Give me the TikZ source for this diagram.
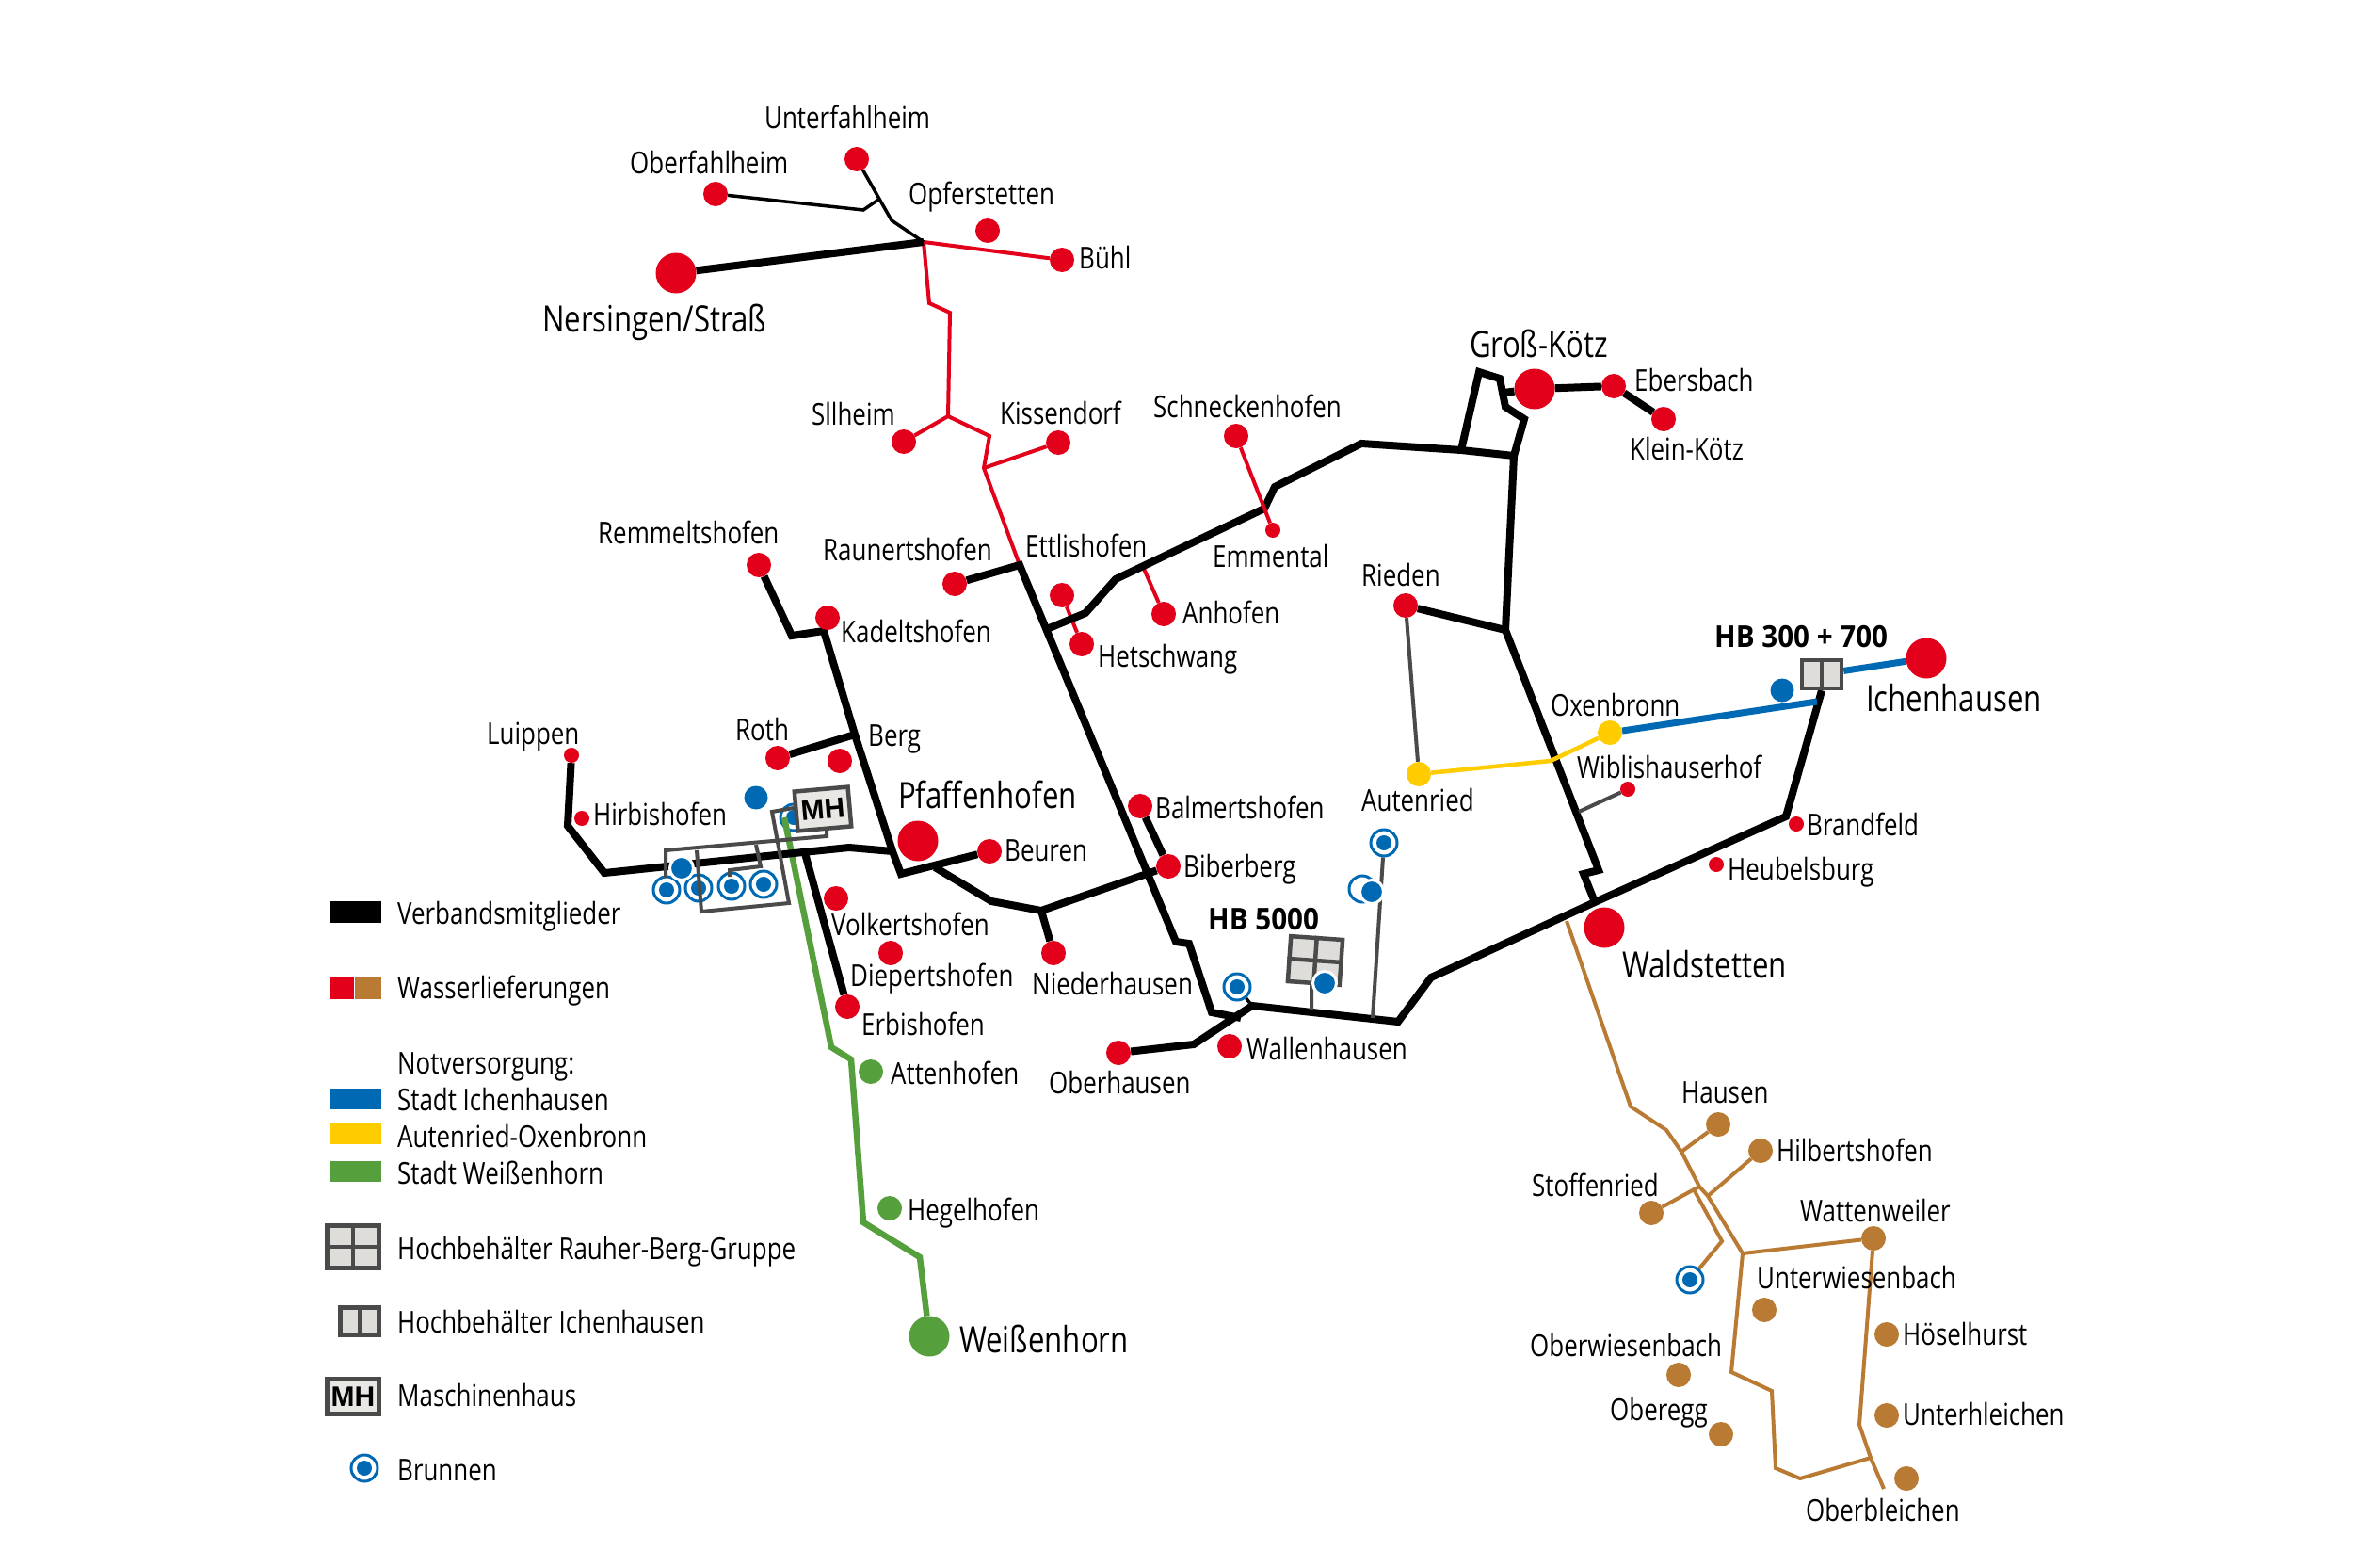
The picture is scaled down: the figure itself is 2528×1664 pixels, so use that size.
\documentclass[tikz,border=0pt]{standalone}
\usepackage{fontspec}
\setmainfont[FakeStretch=0.81]{Open Sans}
\newfontfamily\hbfont[FakeStretch=0.925]{Open Sans}
\newfontfamily\mhfont{Liberation Sans}
\pgfdeclarelayer{conn}
\pgfdeclarelayer{topl}
\pgfsetlayers{conn,main,topl}
\definecolor{cred}{HTML}{E2001A}
\definecolor{cbrown}{HTML}{B97A33}
\definecolor{cblue}{HTML}{0069B4}
\definecolor{cyellow}{HTML}{FFCC00}
\definecolor{cgreen}{HTML}{55A03C}
\definecolor{cgray}{HTML}{4A4A4A}
\definecolor{cbox}{HTML}{DEDDD9}
\tikzset{
  dot/.style={circle,inner sep=0pt,minimum size=#1},
  bigdot/.style={dot=43pt,fill=cred},
  rd/.style={dot=26pt,fill=cred},
  sd/.style={dot=16pt,fill=cred},
  bd/.style={dot=26pt,fill=cbrown},
  gd/.style={dot=26pt,fill=cgreen},
  gbig/.style={dot=43pt,fill=cgreen},
  yd/.style={dot=26pt,fill=cyellow},
  bl/.style={dot=25pt,fill=cblue},
  blh/.style={dot=25pt,fill=cblue,draw=white,line width=3pt},
  ring/.style={dot=28pt,draw=cblue,line width=3pt,fill=white},
  core/.style={dot=16pt,fill=cblue},
  lab/.style={anchor=base west,inner sep=0pt,font=\fontsize{32}{38}\selectfont},
  big/.style={anchor=base west,inner sep=0pt,font=\fontsize{38.5}{46}\selectfont},
  hbl/.style={anchor=base west,inner sep=0pt,font=\hbfont\bfseries\fontsize{32}{38}\selectfont},
  tank/.style={draw=cgray,line width=4.5pt,fill=cbox,inner sep=0pt},
  blk/.style={draw=black,line width=8pt,line join=miter},
  thin/.style={draw=black,line width=3.5pt},
  redl/.style={draw=cred,line width=4pt},
  brl/.style={draw=cbrown,line width=4pt},
  blul/.style={draw=cblue,line width=7pt},
  yel/.style={draw=cyellow,line width=4.5pt},
  grl/.style={draw=cgreen,line width=6.5pt},
  gra/.style={draw=cgray,line width=4pt},
  swatch/.style={inner sep=0pt,anchor=north west}
}
\newcommand{\brunnen}[2]{\node[ring] (#1) at (#2) {}; \node[core] (#1c) at (#2) {};}
\begin{document}
\begin{tikzpicture}[x=1pt,y=-1pt]
\useasboundingbox (0,0) rectangle (2528,1664);

% --- places
\node[rd] (unterf) at (910,169) {};
\node[rd] (oberf) at (760,206) {};
\node[rd] (opfer) at (1049,245) {};
\node[rd] (buehl) at (1128,276) {};
\node[bigdot] (nersingen) at (718,290) {};
\node[rd] (sill) at (960,469) {};
\node[rd] (kiss) at (1124,470) {};
\node[rd] (schneck) at (1313,463) {};
\node[sd] (emm) at (1352,563) {};
\node[rd] (rauner) at (1014,620) {};
\node[rd] (ettl) at (1128,632) {};
\node[rd] (hetsch) at (1149,684) {};
\node[rd] (anhof) at (1236,652) {};
\node[rd] (remm) at (806,600) {};
\node[rd] (kadel) at (879,656) {};
\node[rd] (roth) at (826,805) {};
\node[rd] (berg) at (892,808) {};
\node[sd] (luipp) at (607,802) {};
\node[sd] (hirb) at (618,869) {};
\node[bigdot] (pfaff) at (975,893) {};
\node[rd] (beuren) at (1051,904) {};
\node[rd] (volk) at (888,954) {};
\node[rd] (diep) at (946,1012) {};
\node[rd] (erb) at (900,1069) {};
\node[rd] (balm) at (1211,856) {};
\node[rd] (biber) at (1241,920) {};
\node[rd] (nieder) at (1119,1012) {};
\node[rd] (oberh) at (1188,1118) {};
\node[rd] (wall) at (1306,1111) {};
\node[bigdot] (wald) at (1704,985) {};
\node[bigdot] (gross) at (1630,413) {};
\node[rd] (ebers) at (1714,410) {};
\node[rd] (klein) at (1767,445) {};
\node[rd] (rieden) at (1493,643) {};
\node[yd] (auten) at (1507,822) {};
\node[yd] (oxen) at (1710,778) {};
\node[sd] (wibli) at (1729,838) {};
\node[sd] (brand) at (1908,875) {};
\node[sd] (heub) at (1823,918) {};
\node[bigdot] (ichen) at (2046,699) {};
\node[gd] (atten) at (925,1138) {};
\node[gd] (hegel) at (945,1283) {};
\node[gbig] (weiss) at (987,1419) {};
\node[bd] (hausen) at (1825,1194) {};
\node[bd] (hilb) at (1870,1222) {};
\node[bd] (stoff) at (1754,1288) {};
\node[bd] (watten) at (1990,1315) {};
\node[bd] (unterw) at (1874,1391) {};
\node[bd] (hoesel) at (2004,1417) {};
\node[bd] (unterh) at (2004,1503) {};
\node[bd] (oberb) at (2025,1570) {};
\node[bd] (oberw) at (1783,1460) {};
\node[bd] (oberegg) at (1828,1523) {};

% --- wells
\brunnen{w1}{708,945}
\brunnen{w2}{742,943}
\brunnen{w3}{777,941}
\brunnen{w4}{811,939}
\brunnen{w5}{1314,1048}
\brunnen{w6}{1470,895}
\node[ring] (w7) at (1447,944) {};
\brunnen{w8}{1795,1359}
\node[blh] (d1) at (724,922) {};
\node[bl] (d2) at (803,847) {};
\node[blh] (d3) at (1457,947) {};
\node[bl] (d4) at (1893,733) {};

% --- tanks
\node[tank,rotate=-4,minimum width=55pt,minimum height=48pt] (hb5) at (1397,1020) {};
\draw[gra,line width=4.5pt] (hb5.north) -- (hb5.south);
\draw[gra,line width=4.5pt] (hb5.west) -- (hb5.east);
\node[blh] (d5) at (1407,1044) {};
\node[tank,minimum width=42pt,minimum height=30pt] (hb3) at (1935,716) {};
\draw[gra,line width=4.5pt] (hb3.north) -- (hb3.south);

% --- connectors
\begin{pgfonlayer}{conn}
\fill[white] (0,0) rectangle (2528,1664);
\brunnen{w9}{843,868}
\draw[grl] (833,868) -- (883,1112) -- (904,1125) -- (917,1298) -- (977,1335) -- (weiss);
\draw[redl] (ettl) -- (hetsch);
\draw[redl] (1215,604) -- (anhof);
\coordinate (jn) at (981,257);
\coordinate (jsil) at (1007,442);
\coordinate (jkis) at (1045,497);
\coordinate (jet) at (1083,600);
\draw[redl] (jn) -- (buehl);
\draw[redl] (jn) -- (987,322) -- (1009,332) -- (jsil) -- (1051,463) -- (jkis) -- (jet);
\draw[redl] (jsil) -- (sill);
\draw[redl] (jkis) -- (kiss);
\draw[thin] (unterf) -- (947,234) -- (jn);
\draw[thin] (oberf) -- (917,223) -- (933,212);
\draw[blk] (nersingen) -- (jn);
\draw[blk] (rauner) -- (jet) -- (1249,1000) -- (1263,1002) -- (1287,1075) -- (1318,1081);
\coordinate (jwall) at (1330,1068);
\coordinate (jwald) at (1694,958);
\draw[blk] (oberh) -- (1268,1109) -- (jwall) -- (1485,1085) -- (1520,1038) -- (jwald) -- (1897,867) -- (hb3.south);
\coordinate (jhg) at (1608,484);
\coordinate (jgg) at (1552,478);
\coordinate (jri) at (1599,669);
\draw[blk] (1112,668) -- (1153,651) -- (1185,615) -- (1343,540) -- (1354,517) -- (1446,471) -- (jgg) -- (jhg) -- (jri) -- (1698,924) -- (1682,928) -- (jwald);
\draw[blk] (jgg) -- (1571,395) -- (1593,402) -- (1599,432) -- (1619,445) -- (jhg);
\draw[blk] (gross) -- (1597,417);
\draw[blk] (gross) -- (ebers) -- (klein);
\draw[blk] (rieden) -- (jri);
\coordinate (jberg) at (908,780);
\coordinate (jmid) at (948,904);
\draw[blk] (remm) -- (841,675) -- (875,670) -- (jberg) -- (jmid) -- (957,928) -- (beuren);
\draw[blk] (roth) -- (jberg);
\draw[blk] (luipp) -- (603,877) -- (642,927) -- (853,905) -- (902,900) -- (jmid);
\draw[blk] (855,906) -- (erb);
\coordinate (jnied) at (1106,967);
\draw[blk] (993,921) -- (1053,957) -- (jnied) -- (biber);
\draw[blk] (jnied) -- (nieder);
\draw[blk] (balm) -- (biber);
\draw[thin] (w5) -- (jwall);
\draw[redl] (schneck) -- (emm);
\draw[gra] (w6) -- (1458,1081);
\draw[gra] (hb5.south) ++(-2,0) -- (1393,1072);
\draw[gra] (rieden) -- (auten);
\draw[gra] (wibli) -- (1677,862);
\draw[yel] (auten) -- (1647,808) -- (oxen);
\draw[blul] (oxen) -- (1930,745);
\draw[blul] (hb3) -- (ichen);
\coordinate (b1) at (1786,1223);
\coordinate (b2) at (1805,1260);
\coordinate (b3) at (1814,1270);
\coordinate (b4) at (1851,1331);
\coordinate (b5) at (1987,1548);
\draw[brl] (1664,978) -- (1732,1175) -- (1770,1200) -- (b1) -- (b2) -- (b3) -- (b4);
\draw[brl] (b1) -- (hausen);
\draw[brl] (b3) -- (hilb);
\draw[brl] (b2) -- (stoff);
\draw[brl] (1799,1263) -- (1829,1318) -- (w8);
\draw[brl] (b4) -- (watten);
\draw[brl] (b4) -- (1839,1457) -- (1882,1477) -- (1886,1559) -- (1912,1570) -- (b5);
\draw[brl] (watten) -- (1975,1513) -- (b5) -- (2001,1581);
\end{pgfonlayer}

% --- Maschinenhaus and its pipes
\begin{pgfonlayer}{topl}
\draw[gra] (878,880) -- (878,888) -- (707,903) -- (707,932);
\draw[gra] (843,858) -- (820,862) -- (838,959) -- (745,968) -- (740,903);
\draw[gra] (803,897) -- (808,920) -- (775,924) -- (775,931);
\node[tank,fill=cbox!70!white,rotate=5,minimum width=57pt,minimum height=42pt,font=\mhfont\bfseries\fontsize{30}{36}\selectfont] (mh) at (874,859) {MH};
\end{pgfonlayer}

% --- labels
\node[lab] (lunterf) at (812,137) {Unterfahlheim};
\node[lab] (loberf) at (669,185) {Oberfahlheim};
\node[lab] (lopfer) at (965,218) {Opferstetten};
\node[lab] (lbuehl) at (1146,286) {Bühl};
\node[big] (lners) at (576,352) {Nersingen/Straß};
\node[lab] (lsill) at (862,451) {Sllheim};
\node[lab] (lkiss) at (1062,450) {Kissendorf};
\node[lab] (lschn) at (1225,443) {Schneckenhofen};
\node[big] (lgross) at (1561,379) {Groß-Kötz};
\node[lab] (lebers) at (1736,415) {Ebersbach};
\node[lab] (lklein) at (1731,488) {Klein-Kötz};
\node[lab] (lemm) at (1288,602) {Emmental};
\node[lab] (lrieden) at (1446,622) {Rieden};
\node[lab] (lrem) at (635,577) {Remmeltshofen};
\node[lab] (lrau) at (874,595) {Raunertshofen};
\node[lab] (lett) at (1089,591) {Ettlishofen};
\node[lab] (lanh) at (1256,662) {Anhofen};
\node[lab] (lkad) at (893,682) {Kadeltshofen};
\node[lab] (lhet) at (1166,708) {Hetschwang};
\node[hbl] (lhb3) at (1821,687) {HB 300 + 700};
\node[lab] (loxen) at (1647,760) {Oxenbronn};
\node[big] (lichen) at (1982,755) {Ichenhausen};
\node[lab] (lluipp) at (517,790) {Luippen};
\node[lab] (lroth) at (781,786) {Roth};
\node[lab] (lberg) at (922,792) {Berg};
\node[lab] (lwibli) at (1675,826) {Wiblishauserhof};
\node[big] (lpfaff) at (954,858) {Pfaffenhofen};
\node[lab] (lhirb) at (630,876) {Hirbishofen};
\node[lab] (lbalm) at (1227,869) {Balmertshofen};
\node[lab] (lauten) at (1446,861) {Autenried};
\node[lab] (lbrand) at (1919,887) {Brandfeld};
\node[lab] (lbeuren) at (1067,914) {Beuren};
\node[lab] (lbiber) at (1257,931) {Biberberg};
\node[lab] (lheub) at (1835,934) {Heubelsburg};
\node[hbl] (lhb5) at (1283,987) {HB 5000};
\node[lab] (lvolk) at (883,993) {Volkertshofen};
\node[big] (lwald) at (1723,1038) {Waldstetten};
\node[lab] (ldiep) at (903,1047) {Diepertshofen};
\node[lab] (lnied) at (1096,1056) {Niederhausen};
\node[lab] (lerb) at (915,1099) {Erbishofen};
\node[lab] (lwall) at (1324,1125) {Wallenhausen};
\node[lab] (latten) at (946,1151) {Attenhofen};
\node[lab] (loberh) at (1114,1161) {Oberhausen};
\node[lab] (lhausen) at (1786,1171) {Hausen};
\node[lab] (lhilb) at (1887,1233) {Hilbertshofen};
\node[lab] (lstoff) at (1627,1270) {Stoffenried};
\node[lab] (lhegel) at (964,1296) {Hegelhofen};
\node[lab] (lwatt) at (1912,1297) {Wattenweiler};
\node[lab] (luntw) at (1866,1368) {Unterwiesenbach};
\node[big] (lweiss) at (1019,1436) {Weißenhorn};
\node[lab] (lhoes) at (2021,1428) {Höselhurst};
\node[lab] (loberw) at (1625,1440) {Oberwiesenbach};
\node[lab] (loberegg) at (1710,1508) {Oberegg};
\node[lab] (lunth) at (2021,1513) {Unterhleichen};
\node[lab] (loberb) at (1918,1615) {Oberbleichen};

% --- legend
\node[swatch,fill=black,minimum width=55pt,minimum height=23pt] (lg1) at (350,957) {};
\node[swatch,fill=cred,minimum width=26pt,minimum height=23pt] (lg2) at (350,1038) {};
\node[swatch,fill=cbrown,minimum width=28pt,minimum height=23pt] (lg3) at (377,1038) {};
\node[swatch,fill=cblue,minimum width=55pt,minimum height=22pt] (lg4) at (350,1156) {};
\node[swatch,fill=cyellow,minimum width=55pt,minimum height=22pt] (lg5) at (350,1193) {};
\node[swatch,fill=cgreen,minimum width=55pt,minimum height=22pt] (lg6) at (350,1233) {};
\node[tank,minimum width=55pt,minimum height=45pt] (lg7) at (375,1324) {};
\draw[gra,line width=4.5pt] (lg7.north) -- (lg7.south);
\draw[gra,line width=4.5pt] (lg7.west) -- (lg7.east);
\node[tank,minimum width=41pt,minimum height=29pt] (lg8) at (382,1403) {};
\draw[gra,line width=4.5pt] (lg8.north) -- (lg8.south);
\node[tank,fill=cbox!70!white,minimum width=55pt,minimum height=37pt,font=\mhfont\bfseries\fontsize{30}{36}\selectfont] (lg9) at (375,1483) {MH};
\brunnen{lg10}{387,1559}
\node[lab] (t1) at (422,981) {Verbandsmitglieder};
\node[lab] (t2) at (422,1060) {Wasserlieferungen};
\node[lab] (t3) at (422,1140) {Notversorgung:};
\node[lab] (t4) at (422,1179) {Stadt Ichenhausen};
\node[lab] (t5) at (422,1218) {Autenried-Oxenbronn};
\node[lab] (t6) at (422,1257) {Stadt Weißenhorn};
\node[lab] (t7) at (422,1337) {Hochbehälter Rauher-Berg-Gruppe};
\node[lab] (t8) at (422,1415) {Hochbehälter Ichenhausen};
\node[lab] (t9) at (422,1493) {Maschinenhaus};
\node[lab] (t10) at (422,1572) {Brunnen};
\end{tikzpicture}
\end{document}
